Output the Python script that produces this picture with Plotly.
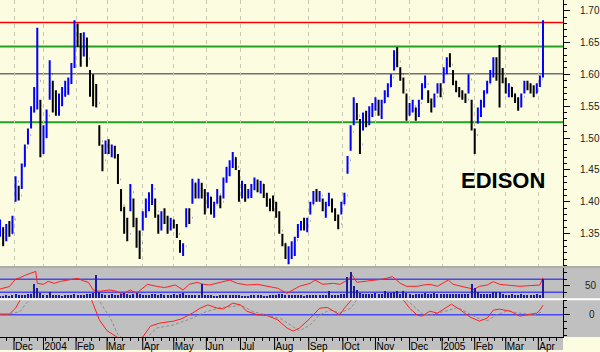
import plotly.graph_objects as go

# ---------------- data ----------------
# bars every 2nd trading day, trading day 0 = 2003-11-18, last = 2005-04-06 (day 350)
high = [1.372,1.360,1.365,1.370,1.378,1.440,1.425,1.460,1.490,1.515,
        1.550,1.580,1.673,1.560,1.520,1.545,1.622,1.590,1.575,
        1.570,1.580,1.590,1.595,1.618,1.685,1.680,1.665,1.666,1.658,
        1.607,1.600,1.585,1.520,1.490,1.496,1.498,1.490,1.488,1.475,
        1.420,1.392,1.375,1.428,1.405,1.375,1.355,1.385,1.405,1.415,
        1.428,1.405,1.380,1.385,1.390,1.378,1.375,1.372,1.365,
        1.340,1.335,1.390,1.390,1.436,1.430,1.436,1.430,1.420,1.415,
        1.408,1.400,1.420,1.410,1.438,1.455,1.465,1.478,1.470,1.450,
        1.433,1.428,1.420,1.428,1.438,1.435,1.433,1.428,1.414,1.405,
        1.410,1.400,1.385,1.350,1.335,1.330,1.338,1.345,1.365,
        1.370,1.375,1.375,1.400,1.417,1.420,1.417,1.405,1.400,1.414,
        1.405,1.390,1.380,1.400,1.414,1.472,1.520,1.564,1.555,1.530,
        1.540,1.543,1.550,1.555,1.564,1.560,1.560,1.575,1.586,1.600,
        1.638,1.643,1.611,1.595,1.570,1.555,1.560,1.548,1.560,
        1.586,1.598,1.575,1.562,1.570,1.586,1.586,1.611,1.627,1.633,
        1.607,1.590,1.580,1.575,1.570,1.600,1.560,1.515,1.548,1.560,
        1.575,1.590,1.607,1.627,1.627,1.646,1.610,1.595,1.586,1.580,
        1.570,1.564,1.570,1.590,1.590,1.586,1.583,1.586,1.598,1.685]
low = [1.345,1.330,1.338,1.345,1.350,1.400,1.402,1.420,1.455,1.490,
       1.515,1.540,1.545,1.470,1.475,1.500,1.560,1.540,1.535,
       1.535,1.550,1.565,1.568,1.585,1.610,1.643,1.612,1.628,1.612,
       1.565,1.550,1.548,1.488,1.448,1.475,1.475,1.470,1.468,1.428,
       1.385,1.350,1.338,1.385,1.360,1.328,1.310,1.355,1.375,1.385,
       1.395,1.375,1.350,1.355,1.365,1.350,1.355,1.358,1.343,
       1.320,1.315,1.360,1.365,1.397,1.405,1.405,1.405,1.380,1.390,
       1.380,1.375,1.397,1.390,1.405,1.430,1.440,1.453,1.450,1.400,
       1.405,1.400,1.405,1.406,1.418,1.415,1.413,1.406,1.392,1.385,
       1.385,1.375,1.350,1.330,1.310,1.302,1.310,1.315,1.343,
       1.355,1.355,1.352,1.380,1.396,1.400,1.400,1.385,1.375,1.393,
       1.383,1.370,1.357,1.380,1.396,1.444,1.480,1.520,1.528,1.475,
       1.512,1.517,1.520,1.533,1.543,1.535,1.530,1.555,1.564,1.580,
       1.606,1.611,1.590,1.570,1.527,1.535,1.540,1.527,1.533,
       1.560,1.578,1.555,1.540,1.548,1.570,1.564,1.586,1.600,1.611,
       1.583,1.572,1.564,1.560,1.555,1.570,1.512,1.475,1.523,1.533,
       1.548,1.570,1.586,1.595,1.590,1.548,1.586,1.570,1.564,1.564,
       1.555,1.543,1.548,1.570,1.575,1.570,1.564,1.570,1.580,1.595]
close = [1.360,1.340,1.355,1.350,1.372,1.432,1.410,1.455,1.485,1.505,
         1.540,1.572,1.590,1.490,1.500,1.535,1.600,1.550,1.545,
         1.560,1.575,1.585,1.590,1.612,1.670,1.650,1.630,1.655,1.625,
         1.575,1.560,1.555,1.495,1.465,1.490,1.480,1.485,1.472,1.435,
         1.395,1.360,1.350,1.415,1.370,1.340,1.335,1.380,1.398,1.405,
         1.420,1.385,1.360,1.375,1.370,1.360,1.368,1.362,1.350,
         1.325,1.330,1.385,1.375,1.430,1.415,1.425,1.412,1.395,1.408,
         1.388,1.395,1.412,1.400,1.432,1.450,1.460,1.470,1.455,1.410,
         1.425,1.410,1.415,1.422,1.430,1.420,1.428,1.410,1.398,1.392,
         1.390,1.380,1.355,1.335,1.318,1.325,1.332,1.340,1.360,
         1.365,1.360,1.370,1.395,1.412,1.408,1.410,1.390,1.395,1.400,
         1.388,1.375,1.365,1.395,1.410,1.465,1.510,1.545,1.535,1.490,
         1.530,1.525,1.545,1.550,1.558,1.540,1.555,1.570,1.580,1.595,
         1.630,1.620,1.600,1.575,1.535,1.545,1.550,1.535,1.555,
         1.580,1.585,1.560,1.550,1.565,1.580,1.570,1.605,1.620,1.615,
         1.590,1.578,1.570,1.565,1.560,1.592,1.520,1.505,1.540,1.552,
         1.570,1.585,1.600,1.620,1.600,1.595,1.592,1.575,1.580,1.570,
         1.560,1.550,1.565,1.585,1.580,1.578,1.570,1.582,1.592,1.680]
volume = [2,2,3,2,3,4,3,3,3,4,
          4,14,10,5,3,3,6,3,3,
          3,2,3,3,3,4,3,3,3,4,
          4,5,23,6,4,3,3,4,3,3,
          4,5,4,3,4,5,4,3,3,3,
          4,4,3,4,3,3,3,4,3,
          4,5,3,3,3,3,3,14,3,3,
          3,2,2,3,3,3,3,3,3,3,
          2,2,2,3,3,3,3,2,2,3,
          3,3,4,4,3,3,3,3,3,
          3,2,3,3,3,3,3,3,3,7,
          3,3,3,4,4,21,26,12,8,5,
          4,4,4,4,5,4,4,7,5,5,
          6,7,4,7,5,4,3,4,4,
          4,5,4,4,5,4,4,4,4,4,
          4,4,4,4,4,4,14,10,6,4,
          4,4,4,6,6,6,4,3,3,4,
          3,3,4,3,3,3,3,4,3,19]

rsi_day = [0,6,10,13,16,19,23,24,28,31,35,39,45,50,54,57,60,64,71,75,
           79,84,88,92,95,101,106,113,118,122,127,131,135,142,148,153,159,166,172,179,
           185,189,193,200,203,208,215,219,224,227,230,237,243,247,253,258,262,269,273,277,
           282,286,289,292,298,303,305,309,314,318,322,329,335,342,348,350]
rsi_val = [40.2,47.5,70.9,75.2,82.3,88.5,94.6,57.7,54.6,63.8,57.7,63.8,67.8,73.1,64.8,60.8,37.1,33.1,37.1,33.1,
           23.8,37.1,26.9,42.3,54.6,48.5,44.5,52.5,37.1,54.6,60.8,54.6,52.5,60.8,67.8,57.7,52.5,54.6,48.5,42.3,
           26.9,37.1,48.5,57.7,67.8,54.6,57.7,54.6,67.8,83.2,60.8,64.8,67.8,70.9,78.3,57.7,48.5,48.5,52.5,54.6,
           48.5,60.8,67.8,54.6,48.5,42.3,37.1,48.5,52.5,62.9,54.6,50.6,48.5,50.6,52.5,75.2]

osc_day = [0,6,10,13,19,29,39,48,59,63,64,69,74,77,81,86,90,92,97,103,
           112,117,124,129,134,140,144,150,155,159,166,172,179,185,189,193,200,206,211,215,
           219,222,226,232,242,251,260,264,269,272,277,282,288,291,297,303,309,314,318,322,
           329,335,342,346,348,350]
osc_val = [0.7,0.7,6.7,15,25,35,35,30,15,0,-5,-16,-21,-25,-28,-30,-25,-22.3,-11.3,-8.3,
           -6.3,-4,1.7,6.7,10,6.7,6,11.7,10,3.7,0,-0.6,-5,-13.3,-16.3,-13.3,-3.3,6.7,7.4,3.7,
           0,6.7,14.7,25,35,30,15,6.7,-0.3,-1.3,3.7,1.7,7.7,10.7,4.7,-2.3,-6.3,-3.3,4.7,5.7,
           3.7,-1.3,0.7,1.7,4.7,9.7]
sig_day = [0,6,13,16,19,29,39,52,61,64,71,76,81,90,95,101,112,124,133,142,
           150,155,163,172,181,187,193,200,206,213,219,226,230,239,251,262,268,273,279,288,
           295,301,308,314,320,327,335,344,350]
sig_val = [0.7,0.7,3.3,10,15,28,35,32,20,14,-3,-20,-26,-30,-22.3,-13.3,-10,-3.3,3.3,7.4,
           8.4,10,3.3,0,-4,-10,-16.3,-10,0,5,1.7,6.7,15,25,28,15,6.7,0,0.7,4,
           7.4,2.7,-3.3,-6,0,4,1.7,0,3.3]

month_day = [9,28,49,69,92,112,133,155,177,199,221,242,264,285,306,326,347]
month_lbl = ["Dec","2004","Feb","Mar","Apr","May","Jun","Jul","Aug","Sep","Oct","Nov",
             "Dec","2005","Feb","Mar","Apr"]
price_ticks = [1.35,1.40,1.45,1.50,1.55,1.60,1.65,1.70]
level_red = 1.6813
level_green = [1.6438, 1.5248]
level_gray = 1.6008
rsi_levels = [70, 30]
title_txt = "EDISON"

# ---------------- figure ----------------
bar_day = list(range(0, 2 * len(close), 2))
open_ = [close[0]] + close[:-1]
assert len(high) == len(low) == len(close) == len(volume)

FONT = "Liberation Sans, Arial, sans-serif"
CREAM = "#FCFCE0"
GRAY = "#C0C0C0"
BLUE = "#4848F0"
xr = [-0.03, 362.9]

fig = go.Figure()
fig.add_trace(go.Ohlc(x=bar_day, open=open_, high=high, low=low, close=close,
                      increasing=dict(line=dict(color="#0000FF", width=2.0)),
                      decreasing=dict(line=dict(color="#000000", width=2.0)),
                      tickwidth=0.1, xaxis="x", yaxis="y", hoverinfo="skip"))
fig.add_trace(go.Bar(x=bar_day, y=volume, xaxis="x2", yaxis="y4",
                     marker=dict(color="#1C1C9C", line=dict(width=0)), width=0.7))
fig.add_trace(go.Scatter(x=rsi_day, y=rsi_val, xaxis="x2", yaxis="y2", mode="lines",
                         line=dict(color="#FF2020", width=1)))
fig.add_trace(go.Scatter(x=sig_day, y=sig_val, xaxis="x3", yaxis="y3", mode="lines",
                         line=dict(color="#8C8C8C", width=1, dash="3px,2px")))
fig.add_trace(go.Scatter(x=osc_day, y=osc_val, xaxis="x3", yaxis="y3", mode="lines",
                         line=dict(color="#FF2020", width=1)))

H = 339.0
def py(Y):
    return (H - Y) / H

shapes = [
    dict(type="rect", xref="paper", yref="paper", x0=0, x1=600/563, y0=0, y1=py(268),
         fillcolor=GRAY, line=dict(width=0), layer="below"),
    dict(type="rect", xref="paper", yref="paper", x0=0, x1=1, y0=py(352), y1=0,
         fillcolor=GRAY, line=dict(width=0), layer="below"),
    dict(type="line", xref="paper", yref="paper", x0=0, x1=600/563, y0=py(268.5), y1=py(268.5),
         line=dict(color="#8C8C8C", width=1), layer="below"),
    dict(type="line", xref="paper", yref="paper", x0=0, x1=600/563, y0=py(301), y1=py(301),
         line=dict(color="#FFFFFF", width=2), layer="below"),
    dict(type="line", xref="x domain", yref="y", x0=0, x1=1, y0=level_red, y1=level_red,
         line=dict(color="#FF0000", width=1.5), layer="below"),
    dict(type="line", xref="x domain", yref="y", x0=0, x1=1, y0=level_gray, y1=level_gray,
         line=dict(color="#707070", width=1.5), layer="below"),
]
for g in level_green:
    shapes.append(dict(type="line", xref="x domain", yref="y", x0=0, x1=1, y0=g, y1=g,
                       line=dict(color="#22A022", width=2), layer="below"))
for r in rsi_levels:
    shapes.append(dict(type="line", xref="x2 domain", yref="y2", x0=0, x1=1, y0=r, y1=r,
                       line=dict(color=BLUE, width=1.5), layer="below"))
shapes.append(dict(type="line", xref="x3 domain", yref="y3", x0=0, x1=1, y0=0, y1=0,
                   line=dict(color=BLUE, width=1.5), layer="below"))
for d in month_day:
    shapes.append(dict(type="line", xref="x3", yref="paper", x0=d, x1=d, y0=0, y1=py(352),
                       line=dict(color="#000000", width=1)))

axis_common = dict(showgrid=False, zeroline=False, fixedrange=True)
tf = dict(family=FONT, size=10, color="#222222")

fig.update_layout(
    width=600, height=352, margin=dict(l=0, r=37, t=0, b=13),
    paper_bgcolor=CREAM, plot_bgcolor="rgba(0,0,0,0)", showlegend=False,
    font=dict(family=FONT, size=10, color="#222222"),
    shapes=shapes,
    xaxis=dict(domain=[0, 1], anchor="y", range=xr, showticklabels=False, ticks="",
               tickmode="array", tickvals=month_day, showgrid=True, gridcolor="#C8C8B2",
               griddash="4px,4px", gridwidth=1, zeroline=False,
               rangeslider=dict(visible=False), fixedrange=True),
    xaxis2=dict(anchor="y2", matches="x", range=xr, showticklabels=False, ticks="", **axis_common),
    xaxis3=dict(anchor="y3", matches="x", range=xr, tickmode="array", tickvals=month_day,
                ticktext=month_lbl, ticks="outside", ticklen=3, tickcolor="#000000",
                showline=True, linecolor="#000000", linewidth=1,
                ticklabelposition="outside right", tickfont=dict(family=FONT, size=10, color="#000000"),
                minor=dict(ticks="outside", ticklen=3, dtick=5, tick0=4, tickcolor="#000000"),
                **axis_common),
    yaxis=dict(domain=[py(268), 1], anchor="x", side="right", range=[1.29853, 1.71670],
               tickmode="array", tickvals=price_ticks, ticktext=[f"{v:.2f}" for v in price_ticks],
               ticks="outside", ticklen=6, tickcolor="#000000", showline=True,
               linecolor="#000000", linewidth=1, tickfont=tf, ticklabelstandoff=8,
               minor=dict(ticks="outside", ticklen=3, dtick=0.01, tick0=1.30, tickcolor="#000000"),
               **axis_common),
    yaxis2=dict(domain=[py(300), py(270)], anchor="x2", side="right", range=[11.54, 103.85],
                tickmode="array", tickvals=[50], ticktext=["50"], ticks="outside", ticklen=6,
                tickcolor="#000000", showline=True, linecolor="#000000", linewidth=1,
                tickfont=tf, ticklabelstandoff=13,
                minor=dict(ticks="outside", ticklen=3, dtick=20, tick0=10, tickcolor="#000000"),
                **axis_common),
    yaxis3=dict(domain=[0, py(302)], anchor="x3", side="right", range=[-22.3, 14.7],
                tickmode="array", tickvals=[0], ticktext=["0"], ticks="outside", ticklen=6,
                tickcolor="#000000", showline=True, linecolor="#000000", linewidth=1,
                tickfont=tf, ticklabelstandoff=17,
                minor=dict(ticks="outside", ticklen=3, dtick=7, tick0=0, tickcolor="#000000"),
                **axis_common),
    yaxis4=dict(overlaying="y2", anchor="x2", side="right", range=[0, 30], visible=False,
                fixedrange=True),
    annotations=[dict(xref="paper", yref="paper", x=503/563, y=py(182), text=f"<b>{title_txt}</b>",
                      showarrow=False, font=dict(family=FONT, size=22, color="#000000"),
                      xanchor="center", yanchor="middle")],
    bargap=0,
)

fig.write_html("out.html", config={"displayModeBar": False})
